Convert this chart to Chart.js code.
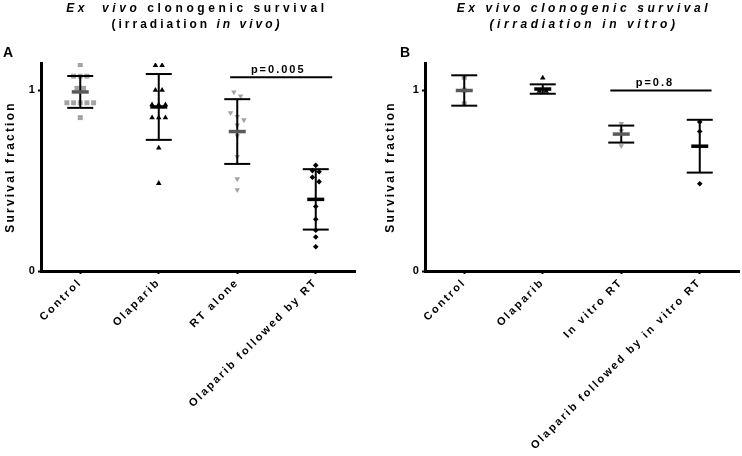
<!DOCTYPE html>
<html><head><meta charset="utf-8">
<script src="https://cdn.jsdelivr.net/npm/chart.js@4.4.1/dist/chart.umd.min.js"></script>
<style>
html,body{margin:0;padding:0;background:#fff;}
#wrap{position:relative;width:742px;height:456px;overflow:hidden;}
.panel{position:absolute;top:0;height:456px;}
#pA{left:0;width:371px;}
#pB{left:371px;width:383px;}
</style></head><body>
<div id="wrap"><div class="panel" id="pA"><canvas id="cA"></canvas></div><div class="panel" id="pB"><canvas id="cB"></canvas></div></div>
<script>
// ---------- data ----------
const categoriesA = ['Control', 'Olaparib', 'RT alone', 'Olaparib followed by RT'];
const categoriesB = ['Control', 'Olaparib', 'In vitro RT', 'Olaparib followed by in vitro RT'];
const yTickValues = [0, 1];

const controlA   = [1.141, 1.077, 1.077, 1.077, 1.01, 1.01, 0.93, 0.93, 0.93, 0.93, 0.93, 0.848];
const olaparibA  = [1.137, 1.137, 1.0, 1.0, 0.92, 0.92, 0.92, 0.848, 0.848, 0.848, 0.68, 0.485];
const rtAloneA   = [0.989, 0.967, 0.875, 0.853, 0.835, 0.806, 0.747, 0.632, 0.509, 0.449];
const olapRtA    = [0.584, 0.555, 0.549, 0.518, 0.494, 0.357, 0.286, 0.225, 0.188, 0.134];
const meansA     = [0.99, 0.907, 0.771, 0.396];
const sdA        = [0.088, 0.182, 0.179, 0.167];

const controlB   = [1.071, 1.0, 0.925];
const olaparibB  = [1.068, 0.995, 0.995];
const vitroRtB   = [0.815, 0.775, 0.692];
const olapVitroB = [0.824, 0.771, 0.482];
const meansB     = [0.998, 1.006, 0.757, 0.69];
const sdB        = [0.084, 0.026, 0.047, 0.146];

const pValueA = {from: 1.91, to: 3.21, y: 1.071, text: 'p=0.005'};
const pValueB = {from: 1.86, to: 3.15, y: 0.998, text: 'p=0.8'};

// ---------- styling ----------
const FONT = '"Liberation Sans", Arial, sans-serif';
const GRAY = '#a3a3a3';
const DARKGRAY = '#5a5a5a';
const markerStyles = [
  {shape: 'rect', rot: 0, r: 3.5, color: GRAY},
  {shape: 'triangle', rot: 0, r: 3.2, color: '#000'},
  {shape: 'triangle', rot: 180, r: 3.2, color: GRAY},
  {shape: 'rectRot', rot: 0, r: 2.8, color: '#000'}
];
const meanColors = [DARKGRAY, '#000', DARKGRAY, '#000'];
const STEP = 0.085, TOL = 0.025;

function swarm(vals, idx) {
  const sorted = vals.slice().sort((a, b) => b - a);
  const rows = [];
  sorted.forEach(v => {
    const last = rows[rows.length - 1];
    if (last && last[last.length - 1] - v < TOL) last.push(v); else rows.push([v]);
  });
  const pts = [];
  rows.forEach(r => r.forEach((v, k) => pts.push({x: idx + (k - (r.length - 1) / 2) * STEP, y: v})));
  return pts;
}

function drawRich(ctx, segs, cx, y, size, spacing) {
  ctx.save();
  ctx.letterSpacing = spacing + 'px';
  ctx.textBaseline = 'alphabetic';
  ctx.textAlign = 'left';
  ctx.fillStyle = '#000';
  const f = it => (it ? 'italic ' : '') + 'bold ' + size + 'px ' + FONT;
  let total = 0;
  const ws = segs.map(([t, it]) => { ctx.font = f(it); const w = ctx.measureText(t).width; total += w; return w; });
  let x = cx - total / 2;
  segs.forEach(([t, it], k) => { ctx.font = f(it); ctx.fillText(t, x, y); x += ws[k]; });
  ctx.restore();
}

function buildPanel(canvasId, p) {
  const datasets = [];
  p.groups.forEach((vals, i) => {
    const s = markerStyles[i];
    datasets.push({type: 'scatter', data: swarm(vals, i), pointStyle: s.shape, rotation: s.rot,
      pointRadius: s.r, pointBackgroundColor: s.color, pointBorderWidth: 0, order: 5});
  });
  const sdLine = [];
  p.means.forEach((m, i) => { sdLine.push({x: i, y: m - p.sds[i]}, {x: i, y: m + p.sds[i]}, {x: i, y: null}); });
  datasets.push({type: 'line', data: sdLine, showLine: true, spanGaps: false, borderColor: '#000',
    borderWidth: 2, pointRadius: 0, order: 4});
  datasets.push({type: 'scatter', data: p.means.flatMap((m, i) => [{x: i, y: m - p.sds[i]}, {x: i, y: m + p.sds[i]}]),
    pointStyle: 'line', pointRadius: 13, pointBorderWidth: 2, pointBorderColor: '#000', order: 3});
  datasets.push({type: 'scatter', data: p.means.map((m, i) => ({x: i, y: m})),
    pointStyle: 'line', pointRadius: 8.5, pointBorderWidth: 3.5, pointBorderColor: meanColors, order: 2});
  datasets.push({type: 'line', data: [{x: p.bracket.from, y: p.bracket.y}, {x: p.bracket.to, y: p.bracket.y}],
    borderColor: '#000', borderWidth: 2, pointRadius: 0, order: 1});

  const decor = {
    id: 'decor',
    beforeDraw(chart) { chart.ctx.letterSpacing = p.tickSpacing + 'px'; },
    afterDraw(chart) {
      const ctx = chart.ctx;
      const xs = chart.scales.x, ys = chart.scales.y;
      drawRich(ctx, p.title1, p.titleX, 12, 12, 3.6);
      drawRich(ctx, p.title2, p.titleX, 28, 12, p.title2Spacing);
      ctx.save();
      ctx.letterSpacing = '0px';
      ctx.font = 'bold 14px ' + FONT;
      ctx.fillStyle = '#000';
      ctx.textBaseline = 'alphabetic';
      ctx.fillText(p.letter, p.letterX, 57);
      ctx.restore();
      const bx = xs.getPixelForValue((p.bracket.from + p.bracket.to) / 2) + p.bracketTextDx;
      const by = ys.getPixelForValue(p.bracket.y);
      drawRich(ctx, [[p.bracket.text, false]], bx, by - 4, 11, 2);
    }
  };

  return new Chart(document.getElementById(canvasId), {
    type: 'scatter',
    data: {datasets},
    options: {
      responsive: true, maintainAspectRatio: false, animation: false, events: [],
      layout: {padding: {top: 63, left: 0, right: p.padRight, bottom: 0}},
      plugins: {legend: {display: false}, tooltip: {enabled: false}},
      scales: {
        x: {
          type: 'linear', min: -0.5, max: 3.5, offset: false,
          afterBuildTicks: s => { s.ticks = p.categories.map((c, i) => ({value: i})); },
          afterFit: s => { s.height = 185; s.paddingLeft = 0; s.paddingRight = 0; },
          grid: {display: true, drawOnChartArea: false, drawTicks: true, tickLength: 3, tickWidth: 2, tickColor: '#000', offset: false},
          border: {display: true, color: '#000', width: 3},
          ticks: {autoSkip: false, maxRotation: 45, minRotation: 45, padding: 2, color: '#000',
            font: {family: FONT, weight: 'bold', size: 11},
            callback: v => p.categories[v]}
        },
        y: {
          type: 'linear', min: 0, max: 1.15,
          afterBuildTicks: s => { s.ticks = yTickValues.map(v => ({value: v})); },
          afterFit: s => { s.width = p.yWidth; s.paddingTop = 0; s.paddingBottom = 0; },
          grid: {display: true, drawOnChartArea: false, drawTicks: true, tickLength: 3, tickWidth: 2, tickColor: '#000'},
          border: {display: true, color: '#000', width: 3},
          ticks: {padding: 1, color: '#000', font: {family: FONT, weight: 'bold', size: 11},
            callback: v => String(v)},
          title: {display: true, text: 'Survival fraction', color: '#000',
            font: {family: FONT, weight: 'bold', size: 12}, padding: {top: p.yTitlePad, bottom: 0}}
        }
      }
    },
    plugins: [decor]
  });
}

buildPanel('cA', {
  categories: categoriesA, groups: [controlA, olaparibA, rtAloneA, olapRtA], means: meansA, sds: sdA,
  bracket: pValueA, bracketTextDx: -3, padRight: 16, yWidth: 41, yTitlePad: 3, tickSpacing: 2.2,
  letter: 'A', letterX: 3, titleX: 197, title2Spacing: 3.0,
  title1: [['Ex  vivo', true], [' clonogenic survival', false]],
  title2: [['(irradiation ', false], ['in vivo)', true]]
});
buildPanel('cB', {
  categories: categoriesB, groups: [controlB, olaparibB, vitroRtB, olapVitroB], means: meansB, sds: sdB,
  bracket: pValueB, bracketTextDx: -6, padRight: 2, yWidth: 54, yTitlePad: 12, tickSpacing: 2.2,
  letter: 'B', letterX: 29, titleX: 213, title2Spacing: 3.6,
  title1: [['Ex vivo clonogenic survival', true]],
  title2: [['(irradiation in vitro)', true]]
});
</script>
</body></html>
